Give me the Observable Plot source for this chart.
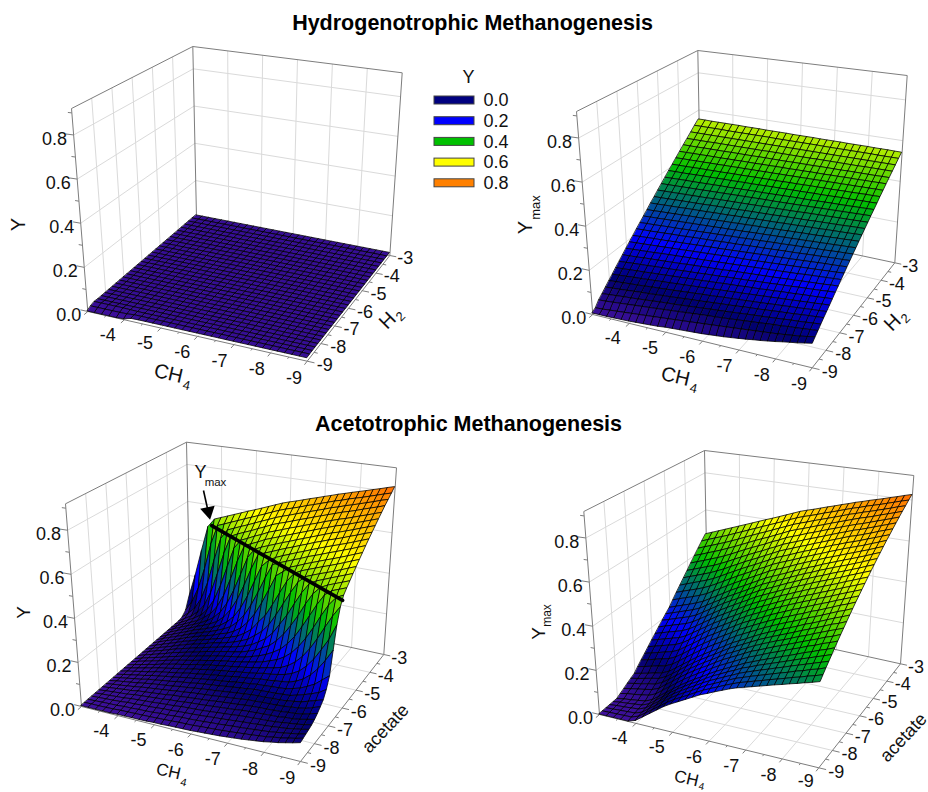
<!DOCTYPE html>
<html><head><meta charset="utf-8">
<style>html,body{margin:0;padding:0;background:#fff}svg{display:block}</style>
<script src="https://cdn.jsdelivr.net/npm/d3@7"></script>
<script src="https://cdn.jsdelivr.net/npm/@observablehq/plot@0.6"></script>
</head><body><div id="chart"></div>
<script>
// grid axes of every surface (log10 concentration): columns are CH4, rows are H2 or acetate
const ch4Grid = [-3,-3.2,-3.4,-3.6,-3.8,-4,-4.2,-4.4,-4.6,-4.8,-5,-5.2,-5.4,-5.6,-5.8,-6,-6.2,-6.4,-6.6,-6.8,-7,-7.2,-7.4,-7.6,-7.8,-8,-8.2,-8.4,-8.6,-8.8,-9];
const subGrid = ch4Grid;
const ch4Ticks = [-3,-4,-5,-6,-7,-8,-9], subTicks = [-3,-4,-5,-6,-7,-8,-9], yTicks = [0,0.2,0.4,0.6,0.8];
const legendTitle = "Y", legendLabels = ["0.0","0.2","0.4","0.6","0.8"], legendColors = ["#00007f","#0000ff","#00c000","#ffff00","#ff8000"];
// values are Y x 1000
const r0 = [13,13,13,13,13,13,13,13,13,13,13,13,13,13,13,13,13,13,13,13,13,13,13,13,13,13,13,13,13,13,13];
const hydroY = [...Array(28).fill(r0),
 [15,15,15,15,15,14,13,13,13,13,13,13,13,13,13,13,13,13,13,13,13,13,13,13,13,13,13,13,13,13,13],
 [9,9,9,9,9,10,13,13,13,13,13,13,13,13,13,13,13,13,13,13,13,13,13,13,13,13,13,13,13,13,13],
 [0,0,0,0,0,2,11,12,12,12,12,12,12,12,12,12,12,12,12,12,12,12,12,12,12,12,12,12,12,12,12]];
const hydroYmax = [
[549,549,548,548,548,548,548,547,547,547,546,546,546,546,545,545,545,545,544,544,544,544,543,543,543,543,542,542,542,541,541],
[528,528,528,528,528,527,527,527,527,527,527,527,526,526,526,526,526,526,526,525,525,525,525,525,525,525,525,524,524,524,524],
[506,506,506,506,506,506,506,506,506,506,506,506,506,506,506,506,506,506,506,506,506,506,506,506,506,506,506,506,506,506,506],
[485,485,485,485,486,486,486,486,486,486,486,486,487,487,487,487,487,487,487,488,488,488,488,488,488,488,489,489,489,489,489],
[465,465,465,466,466,466,466,467,467,467,467,468,468,468,468,468,469,469,469,469,470,470,470,470,471,471,471,471,471,472,472],
[444,444,445,445,446,446,446,447,447,448,448,448,449,449,450,450,450,451,451,452,452,452,453,453,454,454,454,455,455,456,456],
[424,425,425,426,426,427,427,428,428,429,429,430,430,431,431,432,432,433,433,434,434,435,435,436,436,437,437,438,438,439,439],
[404,405,405,406,407,407,408,408,409,410,410,411,412,412,413,413,414,415,415,416,417,417,418,418,419,420,420,421,422,422,423],
[385,386,386,387,388,389,389,390,391,391,392,393,393,394,395,396,396,397,398,398,399,400,400,401,402,403,403,404,405,405,406],
[365,366,367,368,368,369,370,371,372,372,373,374,375,376,376,377,378,379,380,381,381,382,383,384,385,385,386,387,388,389,390],
[346,347,348,349,350,351,352,353,354,355,356,357,358,359,360,361,361,362,363,364,365,366,367,368,369,370,371,372,373,374,375],
[327,328,329,330,331,332,333,334,336,337,338,339,340,341,342,343,344,345,346,347,348,350,351,352,353,354,355,356,357,358,359],
[308,309,310,312,313,314,315,316,318,319,320,321,322,324,325,326,327,328,330,331,332,333,334,336,337,338,339,340,342,343,344],
[290,291,293,294,295,297,298,299,300,302,303,304,306,307,308,310,311,312,313,315,316,317,319,320,321,323,324,325,326,328,329],
[271,272,274,275,277,278,280,281,282,284,285,287,288,290,291,293,294,295,297,298,300,301,303,304,305,307,308,310,311,313,314],
[253,255,256,258,259,261,262,264,265,267,268,270,271,273,274,276,278,279,281,282,284,285,287,288,290,291,293,294,296,297,299],
[235,237,238,240,242,243,245,247,248,250,252,253,255,257,258,260,262,263,265,267,268,270,272,273,275,277,278,280,282,283,285],
[218,220,221,223,225,227,228,230,232,234,235,237,239,241,242,244,246,248,249,251,253,255,256,258,260,262,263,265,267,268,270],
[200,202,204,206,207,209,211,213,215,217,219,221,222,224,226,228,230,232,234,236,237,239,241,243,245,247,249,251,252,254,256],
[183,185,187,189,191,193,195,197,199,201,203,205,207,209,211,213,214,216,218,220,222,224,226,228,230,232,234,236,238,240,242],
[166,168,170,172,174,177,179,181,183,185,187,189,191,193,195,197,199,201,203,205,207,209,211,213,215,218,220,222,224,226,228],
[149,151,153,156,158,160,162,164,166,169,171,173,175,177,179,182,184,186,188,190,192,194,196,199,201,203,205,207,209,212,214],
[132,134,137,139,141,144,146,148,150,153,155,157,160,162,164,167,169,171,173,176,178,180,183,185,187,190,192,194,196,199,201],
[116,118,121,123,125,128,130,133,135,137,140,142,144,147,149,152,154,156,159,161,163,166,168,171,173,175,178,180,182,185,187],
[99,102,104,107,109,112,114,117,119,122,124,127,129,132,134,137,139,142,144,147,149,152,154,157,159,162,164,167,169,172,174],
[83,86,88,91,93,96,99,101,104,106,109,112,114,117,119,122,125,127,130,132,135,137,140,143,145,148,150,153,156,158,161],
[67,70,72,75,78,81,83,86,89,91,94,97,100,102,105,108,111,113,116,119,122,124,127,130,133,135,138,141,144,146,149],
[51,54,57,60,62,65,68,71,74,77,79,82,85,88,91,94,96,99,102,105,108,111,113,116,119,122,125,127,130,133,136],
[36,38,41,44,47,50,53,56,59,62,65,68,71,74,77,80,82,85,88,91,94,97,100,103,106,108,112,114,117,120,123],
[14,16,19,22,25,28,31,34,37,40,43,46,49,52,55,58,61,64,67,70,73,76,79,82,85,88,92,96,100,105,111],
[5,5,5,6,7,8,10,12,14,16,20,22,24,26,28,30,33,36,39,43,47,51,56,60,65,70,76,81,86,92,98]];
const acetoY = [
[90,209,347,480,526,540,554,568,582,596,609,623,637,651,665,676,686,697,708,718,729,739,750,759,769,778,787,797,806,816,825],
[28,81,160,272,410,511,525,540,554,569,583,597,611,626,640,652,662,673,685,695,706,717,728,737,748,757,766,776,786,796,805],
[7,36,71,129,221,346,464,513,528,543,557,572,587,601,616,628,639,651,662,673,684,695,707,716,727,736,746,756,766,777,786],
[2,24,44,74,117,192,294,408,500,517,532,546,562,577,593,605,616,628,640,651,663,674,685,696,707,716,726,737,747,757,768],
[2,20,38,58,80,118,174,257,358,459,505,520,537,551,568,580,592,605,616,628,640,651,663,674,685,694,705,716,726,737,748],
[2,19,35,51,67,91,119,163,228,317,413,494,512,527,544,557,569,582,594,606,618,630,642,653,665,674,685,696,707,718,729],
[2,19,34,49,64,80,98,122,157,210,282,369,458,503,520,533,546,559,571,584,596,608,620,632,644,653,664,675,687,698,709],
[2,18,33,47,61,77,89,105,124,154,197,256,333,420,496,510,523,537,550,562,575,587,600,611,623,633,644,656,667,679,690],
[2,17,31,45,58,74,85,97,111,128,152,186,236,302,381,459,493,513,527,540,553,565,578,590,602,613,624,635,647,659,671],
[2,17,30,43,56,70,82,93,104,117,132,150,180,221,278,347,422,491,506,519,532,544,558,569,581,593,604,616,627,640,652],
[2,16,29,41,53,67,78,89,99,109,123,133,150,173,209,255,315,385,457,483,510,522,536,548,560,572,583,595,607,620,632],
[2,15,27,39,51,64,74,85,94,104,114,124,136,149,169,195,237,275,333,396,457,499,517,529,541,553,564,576,588,601,613],
[2,14,26,37,48,61,71,81,90,99,109,116,125,135,148,163,188,214,253,306,365,424,477,508,521,533,544,556,568,581,593],
[2,14,25,35,46,58,67,76,85,94,103,110,119,126,135,145,159,179,201,235,283,332,391,448,494,513,525,538,550,562,574],
[2,13,23,33,43,55,63,72,80,89,98,104,112,119,125,132,143,155,173,190,220,257,304,356,416,468,502,518,530,542,554],
[2,12,22,31,40,51,59,68,75,83,92,98,106,112,118,123,130,140,150,164,181,202,234,274,325,381,438,487,511,523,535],
[2,12,21,30,38,48,56,64,71,78,86,92,100,105,111,116,122,129,136,144,156,168,187,213,249,294,347,406,460,499,515],
[2,11,19,28,35,45,52,60,66,73,81,86,93,98,104,108,114,119,125,131,139,145,154,170,193,225,267,318,375,430,477],
[2,10,18,26,33,42,48,55,61,68,75,80,87,92,97,101,107,111,116,121,128,131,137,144,156,174,203,241,289,340,410],
[2,10,17,24,30,39,45,51,57,63,70,74,80,85,90,94,99,104,108,112,117,119,123,127,132,143,160,185,219,262,312],
[2,9,15,22,28,36,41,47,52,58,64,68,74,78,83,86,91,96,100,103,108,109,112,114,117,125,134,149,165,190,215],
[2,8,14,20,25,33,37,43,47,53,58,62,68,72,76,79,84,88,92,95,100,101,103,104,107,109,118,127,138,150,170],
[2,8,13,18,23,29,34,39,43,47,53,56,61,65,69,72,76,80,84,87,91,93,94,96,97,100,105,110,120,130,140],
[2,7,11,16,20,26,30,34,38,42,47,50,55,58,61,64,68,72,75,79,83,84,86,87,89,91,95,98,104,114,125],
[2,6,10,14,17,23,26,30,33,37,42,44,48,51,54,57,61,64,67,70,74,76,78,79,81,83,87,89,94,102,111],
[2,6,9,12,15,20,23,26,29,32,36,38,42,45,47,50,53,56,59,62,66,68,70,72,74,75,80,81,86,93,100],
[2,5,7,10,12,17,19,22,24,27,30,32,36,38,40,42,45,48,51,54,58,60,62,64,66,68,72,76,80,85,92],
[2,4,6,8,10,14,15,18,19,22,25,26,29,31,33,35,38,41,43,46,49,52,54,57,59,62,66,69,75,80,87],
[2,3,5,6,7,10,11,13,14,16,19,20,23,25,26,28,30,33,35,38,41,43,46,49,52,55,60,64,70,75,83],
[2,3,3,4,5,7,8,9,10,11,13,14,16,18,19,20,23,25,27,29,32,35,38,41,45,48,54,58,65,71,79],
[2,2,2,2,2,4,4,5,5,6,8,8,10,11,12,13,15,17,19,21,24,27,30,34,38,42,48,53,60,67,75]];
const acetoYmax = [
[470,484,498,512,526,540,554,568,582,596,609,623,637,651,665,676,686,697,708,718,729,739,750,759,769,778,787,797,806,816,825],
[445,459,473,486,500,515,529,544,558,573,587,601,615,630,644,656,666,677,689,699,710,721,732,741,752,761,770,780,790,800,809],
[420,434,447,461,474,489,504,520,535,550,564,579,594,608,623,635,646,658,669,680,691,702,714,723,734,743,753,763,773,784,793],
[395,408,422,435,449,464,479,495,511,527,542,556,572,587,603,615,626,638,650,661,673,684,695,706,717,726,736,747,757,767,778],
[370,383,396,410,423,438,454,471,488,504,519,534,551,565,582,594,606,619,630,642,654,665,677,688,699,708,719,730,740,751,762],
[345,358,371,384,397,413,429,447,464,481,497,512,529,544,561,574,586,599,611,623,635,647,659,670,682,691,702,713,724,735,746],
[321,334,347,360,373,389,405,424,441,459,475,491,508,524,541,554,567,580,592,605,617,629,641,653,665,674,685,696,708,719,730],
[297,310,323,336,349,364,382,401,419,437,454,470,487,504,521,534,547,561,574,586,599,611,624,635,647,657,668,680,691,703,714],
[274,287,299,311,324,340,358,377,396,415,432,449,467,483,501,515,528,541,555,568,581,593,606,618,630,641,652,663,675,687,699],
[250,263,275,287,300,315,335,354,374,393,411,428,446,463,481,495,508,522,537,550,563,575,589,600,612,624,635,647,658,671,683],
[226,239,251,263,276,291,311,331,351,371,389,407,425,443,461,475,489,503,518,531,545,557,571,583,595,607,618,630,642,655,667],
[208,220,232,244,256,271,292,312,332,353,371,389,407,425,444,458,472,486,501,515,529,541,555,567,579,591,602,614,626,639,651],
[190,201,213,224,236,251,272,293,314,335,353,371,389,408,426,441,455,470,485,498,512,525,538,550,563,575,586,598,610,623,635],
[171,183,194,205,216,232,253,274,295,316,335,354,372,390,409,424,439,453,468,482,496,508,522,534,546,558,570,583,595,607,619],
[153,164,175,185,196,212,233,255,277,298,317,336,354,373,391,407,422,437,452,465,479,492,505,517,530,542,554,567,579,591,603],
[135,145,156,166,176,192,214,236,258,280,299,318,336,355,374,390,405,420,435,449,463,476,489,501,514,526,538,551,563,575,587],
[117,127,137,147,157,173,195,217,240,262,281,300,319,338,357,373,388,404,419,433,447,460,473,485,498,510,522,535,547,559,571],
[99,109,118,128,137,153,176,198,221,244,263,283,301,321,340,356,371,387,403,417,430,444,456,469,482,494,506,519,531,543,555],
[82,90,100,109,118,134,156,180,203,225,246,265,284,303,323,339,355,371,386,400,414,427,440,452,466,477,490,503,516,527,540],
[64,72,81,90,98,114,137,161,184,207,228,248,266,286,306,322,338,354,370,384,398,411,423,436,450,461,474,487,500,511,524],
[46,54,62,71,79,95,118,142,166,189,210,230,249,269,289,305,321,338,354,368,381,395,407,420,434,445,458,471,484,495,508],
[37,44,52,60,67,83,106,130,154,177,198,218,237,257,277,293,309,325,341,355,368,381,393,406,419,431,443,456,469,479,492],
[28,35,41,49,55,71,94,118,142,165,186,206,225,245,264,280,296,312,328,342,355,368,379,392,405,416,429,441,453,464,476],
[18,25,31,37,44,58,83,106,131,154,175,195,213,233,252,268,284,300,316,328,341,354,366,378,390,402,414,425,438,448,461],
[9,16,20,26,32,46,71,94,119,142,163,183,201,221,239,255,271,287,303,315,328,341,352,364,376,387,400,410,423,433,445],
[0,6,10,15,20,34,59,82,107,130,151,171,189,209,227,243,259,274,290,302,315,327,338,350,361,373,385,395,407,417,429],
[0,5,8,12,16,29,54,77,102,125,145,165,182,202,220,235,251,265,281,292,305,316,327,338,349,360,371,381,392,402,413],
[0,4,6,9,12,25,49,72,96,119,139,158,176,195,212,227,242,256,271,283,294,305,315,326,336,347,357,367,377,387,397],
[0,2,4,6,8,20,44,67,91,114,134,152,169,187,205,219,234,248,262,273,284,294,304,314,324,333,344,352,363,371,382],
[0,1,2,3,4,16,39,62,85,108,128,145,162,180,197,211,225,239,252,264,273,283,292,302,311,320,330,338,348,356,366],
[0,0,0,0,0,11,34,57,80,103,122,139,156,173,190,203,217,230,243,254,263,272,281,290,299,307,316,324,333,341,350]];
// the black Ymax ridge in the lower-left panel
const ridgeCH4 = [-3.7,-9], ridgeAcetate = [-3,-6.3], ridgeY = [0.49,0.5];

const yTop = 0.92;
const font = "'Liberation Sans', Arial, sans-serif";
// camera of each panel, as the eight corners of its box
const panels = [
 {table:hydroY, floor:{L:[87.3,311],B:[196,217.3],F:[306.7,360.7],R:[389.3,255]}, top:{L:[71,108],B:[192.3,46],F:[311,136],R:[401.7,72.3]}},
 {table:hydroYmax, floor:{L:[592.3,314],B:[700.5,221],F:[811.7,367.3],R:[894.3,262.3]}, top:{L:[576,111],B:[697.3,50],F:[817,142],R:[906.7,75]}},
 {table:acetoY, floor:{L:[81,706],B:[189.5,612],F:[300,761],R:[383.3,654]}, top:{L:[65,503.3],B:[186,441.7],F:[305,536],R:[396,467.3]}},
 {table:acetoYmax, floor:{L:[599,714],B:[707.5,621],F:[818.3,767.3],R:[900,663.3]}, top:{L:[583.3,511],B:[704,450],F:[823,542],R:[913.3,475]}}
];
const bil = (q,w,v,k) => (1-w)*(1-v)*q.L[k] + (1-w)*v*q.B[k] + w*(1-v)*q.F[k] + w*v*q.R[k];
function project(p,c,a,y){
  const w=(-3-c)/6, v=(a+9)/6, z=y/yTop;
  return [0,1].map(k => bil(p.floor,w,v,k)*(1-z) + bil(p.top,w,v,k)*z);
}
const segs=[], frame=[], ticks=[], cells=[], labels=[];
const seg=(list,p,A,B)=>{const a=project(p,...A),b=project(p,...B);list.push({x1:a[0],y1:a[1],x2:b[0],y2:b[1]});};
panels.forEach((p,pi)=>{
  ch4Ticks.slice(1,-1).forEach(c=>{seg(segs,p,[c,-3,0],[c,-3,yTop]);seg(segs,p,[c,-9,0],[c,-3,0]);});
  subTicks.slice(1,-1).forEach(a=>{seg(segs,p,[-3,a,0],[-3,a,yTop]);seg(segs,p,[-3,a,0],[-9,a,0]);});
  yTicks.slice(1).forEach(y=>{seg(segs,p,[-3,-9,y],[-3,-3,y]);seg(segs,p,[-3,-3,y],[-9,-3,y]);});
  [[[-3,-9,0],[-3,-9,yTop]],[[-3,-3,0],[-3,-3,yTop]],[[-9,-3,0],[-9,-3,yTop]],
   [[-3,-9,yTop],[-3,-3,yTop]],[[-3,-3,yTop],[-9,-3,yTop]],
   [[-3,-9,0],[-9,-9,0]],[[-9,-9,0],[-9,-3,0]],[[-3,-3,0],[-9,-3,0]],[[-3,-3,0],[-3,-9,0]]].forEach(([A,B])=>seg(frame,p,A,B));
  ch4Ticks.forEach((c,n)=>{seg(ticks,p,[c,-9,0],[c,-9.2,0]); if(n<6) seg(ticks,p,[c-0.5,-9,0],[c-0.5,-9.1,0]);
    const q=project(p,c,-9.96,0); if(n>0) labels.push({x:q[0],y:Math.min(q[1],781),text:String(c)});});
  subTicks.forEach((a,n)=>{seg(ticks,p,[-9,a,0],[-9.2,a,0]); if(n<6) seg(ticks,p,[-9,a-0.5,0],[-9.1,a-0.5,0]);
    const q=project(p,-9.48,a,0); labels.push({x:q[0],y:q[1],text:String(a)});});
  yTicks.forEach(y=>{seg(ticks,p,[-3,-9,y],[-2.8,-9,y]); seg(ticks,p,[-3,-9,y+0.1],[-2.9,-9,y+0.1]);
    const q=project(p,-3,-9,y); labels.push({x:q[0]-19,y:q[1]+4,text:y.toFixed(1)});});
  for(let i=0;i<subGrid.length-1;i++) for(let j=0;j<ch4Grid.length-1;j++){
    const T=p.table, f=(r,s)=>project(p,ch4Grid[s],subGrid[r],T[r][s]/1000);
    const a=f(i,j),b=f(i+1,j),c=f(i,j+1),d=f(i+1,j+1);
    const v=(T[i][j]+T[i+1][j]+T[i][j+1]+T[i+1][j+1])/4000, id=pi+"-"+i+"-"+j;
    cells.push({id,v,x1:a[0],y1:a[1],x2:b[0],y2:b[1]},{id,v,x1:c[0],y1:c[1],x2:d[0],y2:d[1]});
  }
});
const ridge=ridgeCH4.map((c,n)=>{const q=project(panels[2],c,ridgeAcetate[n],ridgeY[n]);return {x:q[0],y:q[1]};});
const titles=[
 {text:"Hydrogenotrophic Methanogenesis",x:472,y:23},
 {text:"Acetotrophic Methanogenesis",x:468,y:424}];
const axisTitles=[
 {text:"Y",x:18,y:224,rotate:-90,size:20},{text:"CH",x:168,y:373,rotate:13,size:20},{text:"4",x:186,y:385,rotate:13,size:13},
 {text:"H",x:387,y:320,rotate:-45,size:20},{text:"2",x:400,y:316,rotate:-45,size:13},
 {text:"Y",x:525,y:227,rotate:-90,size:20},{text:"max",x:535,y:207,rotate:-90,size:13},
 {text:"CH",x:675,y:376,rotate:13,size:20},{text:"4",x:693,y:388,rotate:13,size:13},
 {text:"H",x:892,y:322,rotate:-45,size:20},{text:"2",x:905,y:318,rotate:-45,size:13},
 {text:"Y",x:23,y:612,rotate:-90,size:19},{text:"CH",x:168,y:771,rotate:13,size:17},{text:"4",x:183,y:782,rotate:13,size:11},
 {text:"acetate",x:385,y:728,rotate:-47,size:18},
 {text:"Y",x:538,y:633,rotate:-90,size:19},{text:"max",x:547,y:615,rotate:-90,size:12},
 {text:"CH",x:686,y:778,rotate:13,size:17},{text:"4",x:701,y:786,rotate:13,size:10},
 {text:"acetate",x:903,y:737,rotate:-47,size:18},
 {text:"Y",x:200,y:472,rotate:0,size:18},{text:"max",x:215,y:482,rotate:0,size:11.5}];
const legendRows=legendLabels.map((text,n)=>({text,color:legendColors[n],y1:96+n*20.7,y2:104+n*20.7,ym:100+n*20.7}));

const plot=Plot.plot({
  width:928,height:792,margin:0,
  style:{fontFamily:font,background:"#fff",color:"#111"},
  x:{type:"linear",domain:[0,928],range:[0,928],axis:null},
  y:{type:"linear",domain:[0,792],range:[0,792],axis:null},
  color:{type:"linear",domain:[0,0.09,0.2,0.4,0.6,0.8,0.87],range:["#3f109c","#00006e","#0000ff","#00c000","#ffff00","#ff8000","#ff3000"],clamp:true},
  marks:[
    Plot.link(segs,{x1:"x1",y1:"y1",x2:"x2",y2:"y2",stroke:"#dadada",strokeWidth:1}),
    Plot.link(frame,{x1:"x1",y1:"y1",x2:"x2",y2:"y2",stroke:"#7d7d7d",strokeWidth:1}),
    Plot.link(ticks,{x1:"x1",y1:"y1",x2:"x2",y2:"y2",stroke:"#7d7d7d",strokeWidth:1}),
    Plot.area(cells,{x1:"x1",y1:"y1",x2:"x2",y2:"y2",z:"id",fill:"v",stroke:"#000",strokeWidth:0.85,strokeOpacity:0.9}),
    Plot.line(ridge,{x:"x",y:"y",stroke:"#000",strokeWidth:3.6}),
    Plot.link([{x1:203,y1:490,x2:207,y2:508}],{x1:"x1",y1:"y1",x2:"x2",y2:"y2",stroke:"#000",strokeWidth:1.6}),
    Plot.dot([{x:207.8,y:511}],{x:"x",y:"y",symbol:"triangle",r:5.5,rotate:168,fill:"#000"}),
    Plot.text(labels,{x:"x",y:"y",text:"text",fontSize:18,fill:"#111"}),
    Plot.text(axisTitles,{x:"x",y:"y",text:"text",rotate:"rotate",fontSize:"size",fill:"#111"}),
    Plot.text(titles,{x:"x",y:"y",text:"text",fontSize:21.5,fontWeight:"bold",fill:"#000"}),
    Plot.text([legendTitle],{x:()=>468,y:()=>77,text:d=>d,fontSize:18,fill:"#111"}),
    Plot.rect(legendRows,{x1:()=>434,x2:()=>474,y1:"y1",y2:"y2",fill:{value:"color",scale:null},stroke:"#444",strokeWidth:1}),
    Plot.text(legendRows,{x:()=>483,y:"ym",text:"text",textAnchor:"start",fontSize:18,fill:"#111"})
  ]
});
document.getElementById("chart").appendChild(plot);
</script></body></html>
